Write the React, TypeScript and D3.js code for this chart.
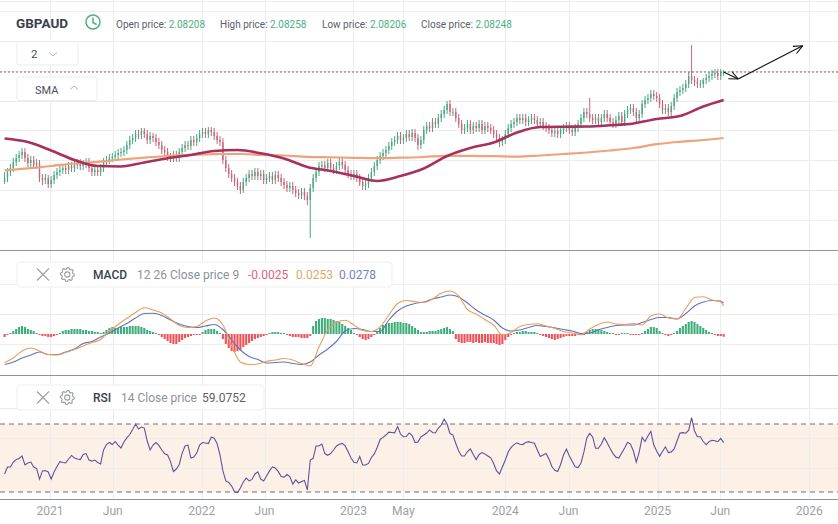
import React, { useEffect } from 'react';
import * as d3 from 'd3';

const W = 838;
const H = 524;
const FONT = "Roboto, 'Noto Sans', sans-serif";

// ---------- data (weekly GBPAUD candles) ----------
const firstWeek = new Date(2020, 8, 14);
const firstOpen = 1.8075;

const closes = [
  1.8175,1.8325,1.8425,1.8575,1.8675,1.875,1.8825,1.8675,1.855,1.8625,
  1.85,1.855,1.8175,1.8125,1.8175,1.8025,1.8125,1.825,1.8325,1.8375,
  1.8425,1.8375,1.8475,1.8425,1.85,1.855,1.8475,1.8525,1.8575,1.8425,
  1.8325,1.8375,1.8325,1.8425,1.8575,1.8625,1.8675,1.87,1.875,1.88,
  1.8825,1.8875,1.9,1.9125,1.9175,1.9275,1.925,1.935,1.9275,1.9125,
  1.9225,1.9175,1.9075,1.9,1.8875,1.8825,1.87,1.8675,1.875,1.8675,
  1.8825,1.8925,1.9,1.8975,1.9125,1.9075,1.9175,1.9275,1.9325,1.9275,
  1.9375,1.9325,1.9225,1.9125,1.9075,1.8625,1.8425,1.8275,1.8175,1.8075,
  1.7975,1.7875,1.8075,1.8175,1.8275,1.8225,1.8325,1.8225,1.8275,1.8125,
  1.8175,1.8225,1.8125,1.825,1.8175,1.8075,1.8,1.7925,1.7975,1.7875,
  1.78,1.775,1.7825,1.7725,1.7625,1.7925,1.8175,1.8325,1.8475,1.85,
  1.8425,1.855,1.8425,1.8375,1.8475,1.8575,1.85,1.8375,1.8275,1.8225,
  1.8275,1.8175,1.8075,1.7975,1.8025,1.8175,1.8325,1.8475,1.8625,1.8725,
  1.88,1.8875,1.8975,1.9075,1.9125,1.9225,1.9125,1.9175,1.9275,1.92,
  1.93,1.9175,1.9,1.9125,1.9375,1.9475,1.9425,1.9575,1.9525,1.9675,
  1.9775,1.9875,2.0025,1.9825,1.9825,1.9675,1.9525,1.9375,1.9425,1.9525,
  1.9375,1.9475,1.9425,1.9525,1.9375,1.9475,1.9425,1.9375,1.9275,1.9175,
  1.9075,1.9125,1.9275,1.9425,1.9525,1.9575,1.9675,1.9625,1.9675,1.9575,
  1.9625,1.9675,1.9625,1.9525,1.9575,1.9475,1.9425,1.9375,1.93,1.935,
  1.9275,1.9375,1.9425,1.9475,1.9375,1.9325,1.9425,1.9525,1.9675,1.9825,
  1.9775,1.9675,1.9625,1.9675,1.9575,1.9675,1.9775,1.9675,1.9575,1.9525,
  1.9625,1.9725,1.9575,1.9775,1.9875,1.9925,1.9825,1.9675,1.9775,2.0025,
  2.0125,2.0175,2.0275,2.0225,2.0175,2.0025,1.9875,1.9925,1.9825,1.9975,
  2.0175,2.0325,2.0375,2.0425,2.0525,2.0725,2.0625,2.0575,2.0525,2.0525,
  2.0625,2.0675,2.0725,2.0775,2.08,2.0725,2.08208,2.08248,
];

const highs = [
  1.8325,1.8425,1.8525,1.8675,1.8775,1.885,1.8925,1.8925,1.8775,1.8725,
  1.8725,1.865,1.8625,1.8275,1.8275,1.825,1.8225,1.835,1.8425,1.8475,
  1.8525,1.8525,1.8575,1.8575,1.86,1.865,1.865,1.8625,1.8675,1.8675,
  1.8525,1.8475,1.8475,1.8525,1.8675,1.8725,1.8775,1.88,1.885,1.89,
  1.8925,1.8975,1.91,1.9225,1.9275,1.9375,1.9375,1.9425,1.9425,1.9375,
  1.9325,1.93,1.9275,1.9175,1.91,1.8975,1.8925,1.88,1.885,1.885,
  1.8925,1.9025,1.91,1.91,1.9225,1.9225,1.9275,1.9375,1.9425,1.9425,
  1.945,1.945,1.9425,1.9325,1.9225,1.9175,1.8725,1.8525,1.8375,1.8275,
  1.8175,1.8075,1.8175,1.8275,1.8375,1.8375,1.8425,1.8425,1.8375,1.8375,
  1.8275,1.8325,1.8325,1.835,1.835,1.8275,1.8175,1.81,1.8075,1.8075,
  1.7975,1.79,1.7925,1.7925,1.7825,1.8025,1.8275,1.8425,1.8575,1.86,
  1.86,1.865,1.865,1.8525,1.8575,1.8675,1.8675,1.86,1.8475,1.8375,
  1.8375,1.8375,1.8275,1.8175,1.8125,1.8275,1.8425,1.8575,1.8725,1.8825,
  1.89,1.8975,1.9075,1.9175,1.9225,1.9325,1.9325,1.9275,1.9375,1.9375,
  1.94,1.94,1.9275,1.9225,1.9475,1.9575,1.9575,1.9675,1.9675,1.9775,
  1.9875,1.9975,2.01,2.0125,1.9925,1.9925,1.9775,1.9625,1.9525,1.9625,
  1.9625,1.9575,1.9575,1.9625,1.9625,1.9575,1.9575,1.9525,1.9475,1.9375,
  1.9275,1.9225,1.9375,1.9525,1.9625,1.9675,1.9775,1.9775,1.9775,1.9775,
  1.9725,1.9775,1.9775,1.9725,1.9675,1.9675,1.9575,1.9525,1.9475,1.945,
  1.945,1.9475,1.9525,1.9575,1.9575,1.9475,1.9525,1.9625,1.9775,1.9925,
  1.9925,2.0175,1.9775,1.9775,1.9775,1.9775,1.9875,1.9875,1.9775,1.9675,
  1.9725,1.9825,1.9825,1.9875,1.9975,2.0025,2.0025,1.9925,1.9875,2.0125,
  2.0225,2.0275,2.0375,2.0375,2.0325,2.0275,2.0125,2.0025,2.0025,2.0075,
  2.0275,2.0425,2.0475,2.0525,2.0625,2.0825,2.15,2.0725,2.0675,2.0625,
  2.0675,2.0775,2.0825,2.0875,2.09,2.09,2.09,2.0875,
];

const lows = [
  1.8025,1.8075,1.8225,1.8325,1.8475,1.8575,1.865,1.8575,1.845,1.845,
  1.84,1.84,1.8075,1.8,1.8025,1.7925,1.7925,1.8025,1.815,1.8225,
  1.8275,1.8275,1.8275,1.8325,1.8325,1.84,1.8375,1.8375,1.8425,1.8325,
  1.8225,1.8225,1.8225,1.8225,1.8325,1.8475,1.8525,1.8575,1.86,1.865,
  1.87,1.8725,1.8775,1.89,1.9025,1.9075,1.915,1.915,1.9175,1.9025,
  1.9025,1.9075,1.8975,1.89,1.8775,1.8725,1.86,1.8575,1.8575,1.8575,
  1.8575,1.8725,1.8825,1.8875,1.8875,1.8975,1.8975,1.9075,1.9175,1.9175,
  1.9175,1.9225,1.9125,1.9025,1.8975,1.8525,1.8325,1.8175,1.8075,1.7975,
  1.7875,1.7775,1.78,1.7975,1.8075,1.8125,1.8125,1.8125,1.8125,1.8025,
  1.8025,1.8075,1.8025,1.8025,1.8075,1.7975,1.79,1.7825,1.7825,1.7775,
  1.77,1.765,1.765,1.7625,1.75,1.6675,1.7825,1.8075,1.8225,1.8375,
  1.8325,1.8325,1.8325,1.8275,1.8275,1.8375,1.84,1.8275,1.8175,1.8125,
  1.8125,1.8075,1.7975,1.7875,1.7875,1.7925,1.8075,1.8225,1.8375,1.8525,
  1.8625,1.87,1.8775,1.8875,1.8975,1.9025,1.9025,1.9025,1.9075,1.91,
  1.91,1.9075,1.8875,1.89,1.9025,1.9275,1.9325,1.9325,1.9425,1.9425,
  1.9575,1.9675,1.9775,1.9725,1.9725,1.9575,1.9425,1.9275,1.9275,1.9325,
  1.9275,1.9275,1.9325,1.9325,1.9275,1.9275,1.9325,1.9275,1.9175,1.9075,
  1.895,1.8975,1.9025,1.9175,1.9325,1.9425,1.9475,1.9525,1.9525,1.9475,
  1.9475,1.9525,1.9525,1.9425,1.9425,1.9375,1.9325,1.9275,1.92,1.92,
  1.9175,1.9175,1.9275,1.9325,1.9275,1.9225,1.9225,1.9325,1.9425,1.9575,
  1.9675,1.9575,1.9525,1.9525,1.9475,1.9475,1.9575,1.9575,1.9475,1.9425,
  1.9425,1.9525,1.9475,1.9475,1.9675,1.9775,1.9725,1.955,1.9575,1.9675,
  1.9925,2.0025,2.0075,2.0125,2.0075,1.9925,1.9775,1.9775,1.9725,1.9725,
  1.9875,2.0075,2.0225,2.0275,2.0325,2.0425,2.0525,2.0475,2.0425,2.0425,
  2.0425,2.0525,2.0575,2.0625,2.0675,2.0625,2.0625,2.0725,
];

// SMA lines, sampled every 8th week (last = latest week)
const smaFast = [
  1.9163,1.9075,1.8863,1.8625,1.8475,1.8463,1.8563,1.8668,1.875,1.885,
  1.8875,1.8793,1.8663,1.845,1.835,1.8225,1.81,1.8225,1.8413,1.8725,
  1.8925,1.9063,1.9313,1.945,1.9458,1.9463,1.9493,1.9538,1.965,1.9725,
  1.9963,2.0125,
];
const smaSlow = [
  1.8368,1.8418,1.8475,1.8538,1.858,1.8638,1.8685,1.8725,1.8755,1.877,
  1.8775,1.8755,1.8738,1.8705,1.8693,1.868,1.867,1.8683,1.87,1.873,
  1.873,1.872,1.8708,1.8738,1.8775,1.8813,1.8863,1.8925,1.902,1.908,
  1.9125,1.9175,
];

// MACD (12, 26, 9) lines, sampled every 3rd week (last = latest week)
const macdLine = [
  -0.02565,-0.0216,-0.0153,-0.0126,-0.0153,-0.01845,-0.0189,-0.01665,-0.01395,-0.0108,
  -0.00765,-0.00495,0.0027,0.00855,0.01413,0.01935,0.02358,0.0216,0.0189,0.0135,
  0.00765,0.00585,0.00675,0.0117,0.0144,0.0081,-0.0108,-0.0252,-0.02745,-0.027,
  -0.02448,-0.0234,-0.02205,-0.0234,-0.02655,-0.0288,-0.0117,0.0036,0.01035,0.01233,
  0.0081,0.00315,0.00225,0.0063,0.0171,0.02745,0.03015,0.02907,0.02853,0.0315,
  0.03663,0.0387,0.0342,0.02205,0.018,0.01305,0.0081,-0.0009,0.00135,0.00675,
  0.00855,0.00918,0.0072,0.00495,0.00225,0.0009,-0.00072,0.0045,0.00855,0.0108,
  0.009,0.00855,0.00945,0.0081,0.0162,0.018,0.0144,0.0135,0.02295,0.03285,
  0.03357,0.0306,0.0288,0.0253,
];
const signalLine = [
  -0.02745,-0.0252,-0.0216,-0.0189,-0.0162,-0.01845,-0.01845,-0.0162,-0.0135,-0.00855,
  -0.00675,-0.0027,0.0009,0.0054,0.00945,0.0144,0.01845,0.01863,0.01665,0.0126,
  0.009,0.00675,0.00585,0.0072,0.00855,0.00405,-0.0054,-0.0144,-0.02025,-0.02295,
  -0.0261,-0.02565,-0.0252,-0.02655,-0.02745,-0.0252,-0.0189,-0.0135,-0.00675,0.0027,
  0.00495,0.00405,0.00225,0.00225,0.0126,0.0207,0.0252,0.02745,0.0288,0.0315,
  0.0333,0.0351,0.0333,0.0279,0.0216,0.0171,0.0126,0.0054,0.0027,0.0036,
  0.00585,0.00765,0.00675,0.00567,0.00405,0.0027,0.00045,0.0009,0.00387,0.00585,
  0.00765,0.0081,0.0081,0.01035,0.01305,0.01485,0.01485,0.0135,0.01845,0.0252,
  0.0288,0.03015,0.0297,0.0278,
];
const histogram = [
  -0.0027,-0.0009,0.0009,0.0027,0.0045,0.0063,0.0072,0.0063,0.0045,0.0036,
  0.0027,0.0009,-0.0009,-0.0018,-0.0018,-0.0027,-0.0027,-0.0018,-0.0009,0.0009,
  0.0027,0.0036,0.0036,0.0045,0.0045,0.0045,0.0045,0.0036,0.0036,0.0027,
  0.0027,0.0018,0.0018,0.0009,0.0018,0.0036,0.0054,0.0063,0.0054,0.0054,
  0.0063,0.0063,0.0063,0.0072,0.0072,0.0072,0.0072,0.0063,0.0054,0.0036,
  0.0027,0.0018,0.0009,-0.0009,-0.0027,-0.0045,-0.0063,-0.0081,-0.009,-0.009,
  -0.0072,-0.0054,-0.0036,-0.0027,-0.0018,-0.0009,-0.0009,-0.0009,0.0018,0.0036,
  0.0045,0.0045,0.0045,0.0027,0.0009,-0.0045,-0.009,-0.0126,-0.0153,-0.0162,
  -0.0153,-0.0144,-0.0117,-0.0099,-0.0081,-0.0063,-0.0045,-0.0036,-0.0027,-0.0018,
  -0.0009,0.0009,0.0018,0.0018,0.0018,0.0009,0.0009,-0.0009,-0.0018,-0.0027,
  -0.0027,-0.0027,-0.0036,-0.0036,-0.0036,-0.0018,0.0072,0.0117,0.0135,0.0144,
  0.0144,0.0135,0.0135,0.0126,0.0117,0.0108,0.009,0.0072,0.0054,0.0036,
  0.0009,-0.0009,-0.0027,-0.0045,-0.0054,-0.0045,-0.0027,-0.0009,0.0027,0.0054,
  0.0081,0.009,0.0099,0.0099,0.0108,0.0108,0.0108,0.0099,0.0099,0.009,
  0.0072,0.0054,0.0036,0.0018,0.0018,0.0018,0.0027,0.0027,0.0027,0.0036,
  0.0045,0.0054,0.0063,0.0045,0.0027,-0.0045,-0.0072,-0.0081,-0.0081,-0.0072,
  -0.0072,-0.0081,-0.0072,-0.0081,-0.0081,-0.0072,-0.0081,-0.0081,-0.0081,-0.009,
  -0.0099,-0.009,-0.0054,-0.0027,-0.0009,0.0009,0.0018,0.0018,0.0027,0.0027,
  0.0018,0.0018,0.0018,0.0009,-0.0009,-0.0018,-0.0027,-0.0036,-0.0045,-0.0054,
  -0.0045,-0.0036,-0.0027,-0.0018,-0.0018,-0.0018,-0.0018,-0.0009,-0.0009,-0.0009,
  0.0018,0.0036,0.0045,0.0045,0.0045,0.0036,0.0027,0.0018,0.0009,0.0009,
  -0.0009,-0.0009,0.0009,0.0009,0.0009,-0.0009,-0.0009,-0.0009,-0.0009,0.0009,
  0.0027,0.0045,0.0063,0.0063,0.0054,0.0027,0.0009,-0.0009,-0.0018,-0.0009,
  0.0009,0.0027,0.0054,0.0072,0.009,0.0108,0.0117,0.0108,0.009,0.0072,
  0.0054,0.0036,0.0018,0.0009,-0.0009,-0.0018,-0.0018,-0.0025,
];

// RSI (14)
const rsi = [
  40.6,44.7,44.7,47.6,49.1,49.7,51.2,45.9,47.1,47.6,
  44.7,43.8,37.6,42.4,42.6,41.8,37.6,41.8,45.0,47.8,
  47.4,47.1,49.4,51.5,50.0,49.4,49.1,52.1,52.6,48.8,
  48.2,48.8,47.4,46.5,54.7,57.9,59.1,57.9,59.7,57.6,
  55.9,59.4,61.8,63.8,66.8,70.0,67.1,68.2,67.6,60.0,
  54.7,57.6,59.1,57.4,54.7,52.5,51.8,47.9,42.1,43.5,
  46.2,52.9,57.1,57.6,50.0,50.6,52.9,57.6,59.1,58.8,
  58.5,62.2,61.6,58.5,51.8,42.4,36.5,35.6,33.5,30.1,
  29.7,32.4,35.9,38.2,36.5,37.4,40.6,41.9,37.6,36.5,
  39.4,42.4,44.7,44.1,42.1,39.1,38.8,40.3,39.1,34.7,
  37.1,35.3,36.2,36.8,31.2,48.8,49.8,57.1,57.1,58.2,
  52.6,51.6,52.6,54.7,57.1,58.1,58.6,57.1,53.8,50.0,
  47.5,47.1,50.9,45.9,45.9,46.8,50.3,52.4,56.2,60.9,
  62.1,63.5,65.2,65.0,64.8,68.5,64.1,62.5,62.6,64.7,
  63.2,59.1,59.4,62.4,63.5,64.7,66.5,65.0,64.7,67.6,
  69.4,72.9,70.0,64.4,63.5,58.5,54.1,51.2,51.2,53.8,
  55.3,52.1,49.1,52.1,53.2,52.4,51.2,50.1,46.8,42.4,
  40.6,44.7,48.8,53.5,56.2,57.9,58.9,58.1,57.9,59.1,
  59.6,59.1,58.7,54.7,50.9,51.8,52.6,49.4,45.0,42.8,
  42.1,46.2,51.8,55.3,51.2,47.9,44.8,44.4,47.1,53.5,
  61.8,64.5,62.4,55.7,55.7,58.2,61.9,59.0,55.6,52.6,
  50.5,50.0,52.9,55.9,59.3,58.2,54.1,47.6,53.5,62.1,
  59.7,62.9,65.6,57.6,54.1,51.0,53.8,56.6,53.2,53.6,
  55.3,60.0,64.7,64.9,64.6,66.4,73.8,65.9,62.5,62.5,
  59.7,57.8,59.6,60.4,60.1,59.6,61.5,59.0752,
];

const xTicks = [
  { date: new Date(2021, 0, 1), label: '2021' },
  { date: new Date(2021, 5, 1), label: 'Jun' },
  { date: new Date(2022, 0, 1), label: '2022' },
  { date: new Date(2022, 5, 1), label: 'Jun' },
  { date: new Date(2023, 0, 1), label: '2023' },
  { date: new Date(2023, 4, 1), label: 'May' },
  { date: new Date(2024, 0, 1), label: '2024' },
  { date: new Date(2024, 5, 1), label: 'Jun' },
  { date: new Date(2025, 0, 1), label: '2025' },
  { date: new Date(2025, 5, 1), label: 'Jun' },
  { date: new Date(2026, 0, 1), label: '2026' },
];

const priceGrid = [2.235, 2.16, 2.085, 2.01, 1.9375, 1.8625, 1.7875, 1.7125];
const macdGrid = [0.045, 0.018, -0.009];
const rsiGrid = [79.4, 61.8, 44.1];

const forecast = [
  { date: new Date(2025, 5, 9), price: 2.0825 },
  { date: new Date(2025, 6, 14), price: 2.065 },
  { date: new Date(2025, 11, 16), price: 2.148 },
];

const header = [
  { label: 'Open price:', value: '2.08208', x: 116 },
  { label: 'High price:', value: '2.08258', x: 220 },
  { label: 'Low price:', value: '2.08206', x: 322 },
  { label: 'Close price:', value: '2.08248', x: 421 },
];

// ---------- colours ----------
const GREEN = '#48a880';
const RED = '#c9637a';
const HIST_GREEN = '#3fae7a';
const HIST_RED = '#f0525a';
const GRID = '#ededed';
const SEP = '#8e9299';

function gearPath(cx: number, cy: number, r1: number, r2: number, teeth: number) {
  const pts: string[] = [];
  const n = teeth * 4;
  for (let k = 0; k < n; k++) {
    const a = (k / n) * Math.PI * 2;
    const r = k % 4 < 2 ? r1 : r2;
    pts.push(`${(cx + r * Math.cos(a)).toFixed(2)},${(cy + r * Math.sin(a)).toFixed(2)}`);
  }
  return 'M' + pts.join('L') + 'Z';
}

function LegendIcons({ y }: { y: number }) {
  return (
    <g stroke="#9a9ea6" fill="none" strokeWidth={1.1}>
      <line x1={37} y1={y - 6} x2={49} y2={y + 6} />
      <line x1={49} y1={y - 6} x2={37} y2={y + 6} />
      <path d={gearPath(67.3, y, 7, 5.6, 8)} />
      <circle cx={67.3} cy={y} r={2.6} />
    </g>
  );
}

export default function App() {
  useEffect(() => {
    document.body.style.margin = '0';
  }, []);

  const last = closes.length - 1;
  const dates = closes.map((_, i) => d3.timeWeek.offset(firstWeek, i));

  const x = d3
    .scaleTime()
    .domain([new Date(2020, 8, 3), new Date(2026, 2, 11)])
    .range([0, W]);
  const yP = d3.scaleLinear().domain([1.6375, 2.2625]).range([250, 0]);
  const yM = d3.scaleLinear().domain([-0.0369, 0.0738]).range([375, 252]);
  const yR = d3.scaleLinear().domain([30, 70]).range([492, 424]);

  const smaPts = (arr: number[]) =>
    arr.map((v, k) => [x(dates[Math.min(k * 8, last)]), yP(v)] as [number, number]);
  const macdPts = (arr: number[]) =>
    arr.map((v, k) => [x(dates[Math.min(k * 3, last)]), yM(v)] as [number, number]);

  const smooth = d3.line().curve(d3.curveMonotoneX);
  const straight = d3.line();

  const rsiPath = straight(rsi.map((v, i) => [x(dates[i]), yR(v)] as [number, number]));

  const fc = forecast.map((f) => [x(f.date), yP(f.price)]);

  return (
    <svg
      width={W}
      height={H}
      viewBox={`0 0 ${W} ${H}`}
      style={{ position: 'absolute', left: 0, top: 0, background: '#fff', fontFamily: FONT }}
    >
      <defs>
        <marker
          id="arrowHead"
          viewBox="0 0 10 10"
          refX={9.5}
          refY={5}
          markerWidth={10}
          markerHeight={10}
          markerUnits="userSpaceOnUse"
          orient="auto"
        >
          <path d="M0.5,1 L9.5,5 L0.5,9" fill="none" stroke="#111" strokeWidth={1.1} />
        </marker>
      </defs>
      <rect x={0} y={0} width={W} height={H} fill="#fff" />

      {/* RSI band */}
      <rect x={0} y={yR(70)} width={W} height={yR(30) - yR(70)} fill="#fdf0e6" />

      {/* grid */}
      <g stroke={GRID} strokeWidth={1}>
        {xTicks.map((t, i) => (
          <line key={'vx' + i} x1={Math.round(x(t.date)) + 0.5} x2={Math.round(x(t.date)) + 0.5} y1={0} y2={499} />
        ))}
        {priceGrid.map((p, i) => (
          <line key={'gp' + i} x1={0} x2={W} y1={Math.round(yP(p)) + 0.5} y2={Math.round(yP(p)) + 0.5} />
        ))}
        {macdGrid.map((p, i) => (
          <line key={'gm' + i} x1={0} x2={W} y1={Math.round(yM(p)) + 0.5} y2={Math.round(yM(p)) + 0.5} />
        ))}
        {rsiGrid.map((p, i) => (
          <line key={'gr' + i} x1={0} x2={W} y1={Math.round(yR(p)) + 0.5} y2={Math.round(yR(p)) + 0.5} />
        ))}
        <line x1={0} x2={W} y1={1.5} y2={1.5} />
      </g>

      {/* candles */}
      <g>
        {closes.map((c, i) => {
          const o = i === 0 ? firstOpen : closes[i - 1];
          const col = c >= o ? GREEN : RED;
          const cx = x(dates[i]);
          const top = yP(Math.max(o, c));
          const bot = yP(Math.min(o, c));
          return (
            <g key={'c' + i}>
              <line x1={cx} x2={cx} y1={yP(highs[i])} y2={yP(lows[i])} stroke={col} strokeWidth={1} />
              <rect x={cx - 0.7} width={1.4} y={top} height={Math.max(0.8, bot - top)} fill={col} />
            </g>
          );
        })}
      </g>

      {/* SMA lines */}
      <path d={smooth(smaPts(smaSlow)) || ''} fill="none" stroke="#f0a27a" strokeWidth={2.2} />
      <path d={smooth(smaPts(smaFast)) || ''} fill="none" stroke="#a8305e" strokeWidth={2.6} />

      {/* last price line */}
      <line x1={0} x2={W} y1={yP(closes[last])} y2={yP(closes[last])} stroke="#9c5f63" strokeWidth={1} strokeDasharray="2 2" />

      {/* forecast arrows */}
      <line x1={fc[0][0]} y1={fc[0][1]} x2={fc[1][0]} y2={fc[1][1]} stroke="#111" strokeWidth={1.1} markerEnd="url(#arrowHead)" />
      <line x1={fc[1][0]} y1={fc[1][1]} x2={fc[2][0]} y2={fc[2][1]} stroke="#111" strokeWidth={1.1} markerEnd="url(#arrowHead)" />

      {/* MACD histogram */}
      <g>
        {histogram.map((v, i) => {
          const cx = x(dates[i]);
          const y0 = yM(0);
          const y1 = yM(v);
          return (
            <rect
              key={'h' + i}
              x={cx - 1.05}
              width={2.1}
              y={Math.min(y0, y1)}
              height={Math.max(0.8, Math.abs(y1 - y0))}
              fill={v >= 0 ? HIST_GREEN : HIST_RED}
            />
          );
        })}
      </g>
      <path d={smooth(macdPts(signalLine)) || ''} fill="none" stroke="#6174c2" strokeWidth={1.1} />
      <path d={smooth(macdPts(macdLine)) || ''} fill="none" stroke="#eb9c58" strokeWidth={1.1} />

      {/* RSI */}
      <line x1={0} x2={W} y1={yR(70)} y2={yR(70)} stroke="#6d6f75" strokeWidth={1} strokeDasharray="5 4" />
      <line x1={0} x2={W} y1={yR(30)} y2={yR(30)} stroke="#6d6f75" strokeWidth={1} strokeDasharray="5 4" />
      <path d={rsiPath || ''} fill="none" stroke="#62539a" strokeWidth={1.1} />

      {/* separators / axis */}
      <line x1={0} x2={W} y1={250.5} y2={250.5} stroke={SEP} strokeWidth={1} />
      <line x1={0} x2={W} y1={375.5} y2={375.5} stroke={SEP} strokeWidth={1} />
      <line x1={0} x2={W} y1={499.5} y2={499.5} stroke={SEP} strokeWidth={1} />
      <g fontSize={12} fill="#9ba0a8" textAnchor="middle">
        {xTicks.map((t, i) => (
          <text key={'xt' + i} x={x(t.date)} y={515}>
            {t.label}
          </text>
        ))}
      </g>

      {/* header */}
      <text x={16} y={28} fontSize={13.5} fontWeight={700} fill="#3a3f4b">
        GBPAUD
      </text>
      <g stroke="#4caf7d" fill="none" strokeWidth={1.5}>
        <circle cx={93} cy={22} r={7} />
        <polyline points="93,17.5 93,22.5 96.5,24.5" />
      </g>
      {header.map((h) => (
        <text key={h.label} x={h.x} y={27.5} fontSize={10} fill="#5b606b">
          {h.label}
          <tspan fill="#4caf83"> {h.value}</tspan>
        </text>
      ))}

      {/* period selector */}
      <rect x={17} y={41.5} width={61} height={23.5} fill="#fff" stroke="#ebebeb" rx={2} />
      <text x={31} y={58} fontSize={11.5} fill="#4a4f5a">
        2
      </text>
      <polyline points="49,52.5 53,56 57,52.5" fill="none" stroke="#b3b6bd" strokeWidth={1} />

      {/* SMA toggle */}
      <rect x={17} y={77} width={80} height={23.5} fill="#fff" stroke="#ebebeb" rx={2} />
      <text x={35} y={93.5} fontSize={11} fill="#4a4f5a">
        SMA
      </text>
      <polyline points="70,89.5 74,86 78,89.5" fill="none" stroke="#b3b6bd" strokeWidth={1} />

      {/* MACD legend */}
      <rect x={17} y={262} width={375} height={25} fill="#fff" fillOpacity={0.92} stroke="#eeeeee" rx={3} />
      <LegendIcons y={274.5} />
      <text y={279} fontSize={12}>
        <tspan x={93} fill="#3a3f4b" fontWeight={500}>MACD</tspan>
        <tspan x={137} fill="#8c919a">12 26 Close price 9</tspan>
        <tspan x={248} fill="#e0637b">-0.0025</tspan>
        <tspan x={296} fill="#e6a566">0.0253</tspan>
        <tspan x={339} fill="#7583b8">0.0278</tspan>
      </text>

      {/* RSI legend */}
      <rect x={17} y={385} width={247} height={25} fill="#fff" fillOpacity={0.92} stroke="#eeeeee" rx={3} />
      <LegendIcons y={397.5} />
      <text y={402} fontSize={12}>
        <tspan x={93} fill="#3a3f4b" fontWeight={500}>RSI</tspan>
        <tspan x={121} fill="#8c919a">14 Close price</tspan>
        <tspan x={202} fill="#5a5f6a">59.0752</tspan>
      </text>
    </svg>
  );
}
